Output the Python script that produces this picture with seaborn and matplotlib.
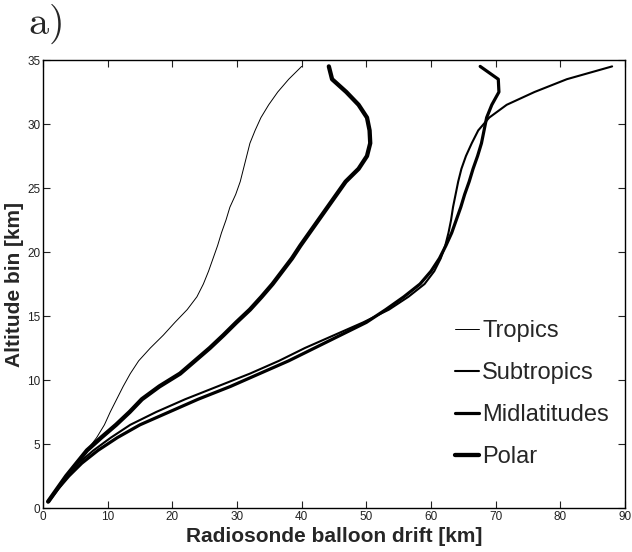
import numpy as np
import pandas as pd
import seaborn as sns
import matplotlib.pyplot as plt

# ─── DATA ─────────────────────────────────────────────
altitude = [0.5, 1.5, 2.5, 3.5, 4.5, 5.5, 6.5, 7.5, 8.5, 9.5,
            10.5, 11.5, 12.5, 13.5, 14.5, 15.5, 16.5, 17.5, 18.5, 19.5,
            20.5, 21.5, 22.5, 23.5, 24.5, 25.5, 26.5, 27.5, 28.5, 29.5,
            30.5, 31.5, 32.5, 33.5, 34.5]

tropics = [0.8, 2.2, 3.5, 5.0, 6.8, 8.3, 9.5, 10.4, 11.4, 12.4,
           13.5, 14.8, 16.6, 18.6, 20.4, 22.3, 23.8, 24.8, 25.6, 26.3,
           27.0, 27.6, 28.3, 28.9, 29.8, 30.5, 31.0, 31.5, 32.0, 32.8,
           33.7, 34.9, 36.3, 38.0, 40.0]

subtropics = [0.8, 2.2, 3.7, 5.5, 7.8, 10.5, 13.5, 17.5, 22.0, 27.0,
              32.0, 36.5, 40.5, 45.0, 49.5, 53.5, 56.5, 59.0, 60.5, 61.5,
              62.2, 62.7, 63.1, 63.4, 63.8, 64.2, 64.7, 65.4, 66.3, 67.3,
              69.0, 71.7, 76.0, 81.0, 88.0]

midlatitudes = [0.8, 2.3, 4.0, 6.0, 8.5, 11.5, 15.0, 19.5, 24.0, 29.0,
                33.5, 38.0, 42.0, 46.0, 50.0, 53.0, 55.8, 58.3, 60.0, 61.3,
                62.3, 63.2, 63.9, 64.6, 65.2, 65.9, 66.5, 67.2, 67.8, 68.2,
                68.6, 69.4, 70.5, 70.4, 67.6]

polar = [0.8, 2.2, 3.6, 5.2, 6.8, 9.0, 11.3, 13.4, 15.3, 18.0,
         21.2, 23.5, 25.8, 27.9, 29.9, 32.0, 33.8, 35.5, 37.0, 38.5,
         39.8, 41.2, 42.6, 44.0, 45.4, 46.8, 48.8, 50.1, 50.6, 50.5,
         50.1, 48.8, 46.9, 44.7, 44.2]

regions = ["Tropics", "Subtropics", "Midlatitudes", "Polar"]
widths = [0.7, 1.5, 2.3, 3.1]

x_ticks = [0, 10, 20, 30, 40, 50, 60, 70, 80, 90]
y_ticks = [0, 5, 10, 15, 20, 25, 30, 35]

# ─── PLOT ─────────────────────────────────────────────
sns.set_theme(style="ticks")
plt.rcParams['font.family'] = ['Liberation Sans', 'DejaVu Sans']
plt.rcParams['mathtext.fontset'] = 'cm'

fig = plt.figure(figsize=(6.32, 5.52), dpi=100)
ax = fig.add_axes([0.068, 0.0797, 0.921, 0.8116])

for name, vals, lw in zip(regions, [tropics, subtropics, midlatitudes, polar], widths):
    df = pd.DataFrame({"drift": vals, "alt": altitude})
    sns.lineplot(data=df, x="drift", y="alt", orient="y", color="black",
                 linewidth=lw, label=name, ax=ax)

ax.set_xlim(0, 90)
ax.set_ylim(0, 35)
ax.set_xticks(x_ticks)
ax.set_yticks(y_ticks)
ax.tick_params(direction="in", top=True, right=True, length=5, width=0.8,
               labelsize=8.5, colors="#222222", pad=2)
for s in ax.spines.values():
    s.set_linewidth(1.0)
    s.set_color("black")

ax.set_xlabel("Radiosonde balloon drift [km]", fontsize=15, fontweight="bold", labelpad=3)
ax.set_ylabel("Altitude bin [km]", fontsize=15, fontweight="bold", labelpad=2)

ax.legend(loc="upper left", bbox_to_anchor=(0.708, 0.42), frameon=False,
          fontsize=17, handlelength=1.0, handletextpad=0.15, labelspacing=0.85,
          borderpad=0, borderaxespad=0)

fig.text(0.044, 0.995, r"$\mathrm{a)}$", fontsize=29, va="top", ha="left")

fig.savefig("out.png", dpi=100)
